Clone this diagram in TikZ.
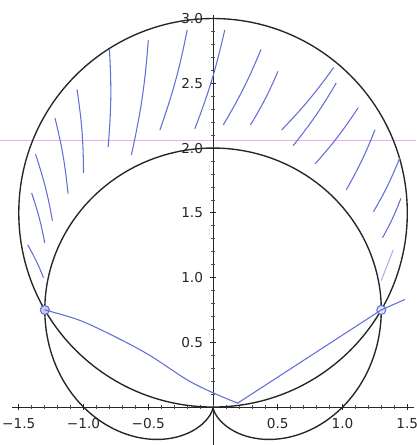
\documentclass[tikz,border=0pt]{standalone}
\usepackage{fontspec}
\setsansfont{DejaVu Sans}
\usetikzlibrary{arrows.meta, positioning, calc}
\definecolor{penblue}{RGB}{100,110,215}
\definecolor{rulepink}{RGB}{240,170,230}

\begin{document}
\begin{tikzpicture}[
        x=3cm, y=3cm,
        axis/.style={line width=0.7pt, black!85},
        curve/.style={line width=0.9pt, black!85},
        major/.style={line width=0.5pt, black!85},
        minor/.style={line width=0.4pt, black!70},
        ticklabel/.style={font=\sffamily\fontsize{9}{10}\selectfont, inner sep=0pt, text=black!85},
        pen/.style={penblue, line width=0.7pt, line cap=round, line join=round},
        ruled/.style={rulepink, line width=0.5pt}
    ]
    \useasboundingbox (-1.645,-0.293) rectangle (1.568,3.143);

    % ruled line of the paper
    \draw[ruled] (-1.645,2.06) -- (1.568,2.06);

    % Axes
    \draw[axis] (-1.55,0) -- (1.55,0);
    \draw[axis] (0,-0.293) -- (0,3.03);

    % Minor ticks
    \foreach \t in {-15,...,15}
        \draw[minor] (\t/10,-0.012) -- (\t/10,0.012);
    \foreach \t in {1,...,30}
        \draw[minor] (-0.012,\t/10) -- (0.012,\t/10);

    % Major ticks and labels
    \foreach \v/\txt [count=\i] in {-1.5/−1.5, -1.0/−1.0, -0.5/−0.5, 0.5/0.5, 1.0/1.0, 1.5/1.5} {
        \draw[major] (\v,-0.025) -- (\v,0.025);
        \node[ticklabel] (xlab\i) at (\v,-0.13) {\txt};
    }
    \foreach \v/\txt [count=\i] in {0.5/0.5, 1.0/1.0, 1.5/1.5, 2.0/2.0, 2.5/2.5, 3.0/3.0} {
        \draw[major] (-0.025,\v) -- (0.025,\v);
        \node[ticklabel, anchor=east] (ylab\i) at (-0.075,\v) {\txt};
    }

    % r = 1 + sin(theta)
    \draw[curve] plot[domain=0:360, samples=361, variable=\t]
        ({(1+sin(\t))*cos(\t)}, {(1+sin(\t))*sin(\t)});

    % r = 3 sin(theta)
    \draw[curve] (0,1.5) circle[radius=1.5];

    % Points where the curves meet
    \coordinate (meetL) at (-1.299,0.75);
    \coordinate (meetR) at (1.299,0.75);
    \coordinate (dip) at (0.19,0.03);
    \coordinate (tail) at (1.48,0.83);

    % Hand-drawn shading between the curves
    \foreach \a/\b/\c/\d in {
        -0.20/2.91/-0.41/2.14, -0.50/2.83/-0.63/1.95, -0.80/2.76/-0.81/2.01,
        -1.05/2.45/-1.00/1.81, -1.22/2.23/-1.12/1.65, -1.37/1.95/-1.24/1.44,
        -1.40/1.65/-1.30/1.27, -1.43/1.25/-1.31/1.00,
        0.09/2.91/-0.14/2.15, 0.37/2.76/0.08/2.18, 0.50/2.59/0.29/2.18,
        0.93/2.62/0.53/2.14, 0.95/2.50/0.62/2.02, 1.12/2.31/0.79/1.88,
        1.25/2.14/1.03/1.68, 1.44/1.92/1.24/1.51, 1.45/1.61/1.31/1.31}
        \draw[pen] (\a,\b) to[bend left=4] (\c,\d);
    \draw[pen, penblue!55] (1.39,1.21) -- (1.30,0.98);

    % Hand-drawn marks at the meeting points
    \draw[pen, fill=penblue!35] (meetL) circle[radius=0.035];
    \draw[pen, fill=penblue!20] (meetR) circle[radius=0.035];
    \draw[pen] plot[smooth, tension=0.5] coordinates {(meetL) (-1.03,0.67)
        (-0.75,0.54) (-0.49,0.40) (-0.20,0.21) (0,0.11) (dip)};
    \draw[pen] (dip) -- (meetR) -- (tail);

\end{tikzpicture}
\end{document}
